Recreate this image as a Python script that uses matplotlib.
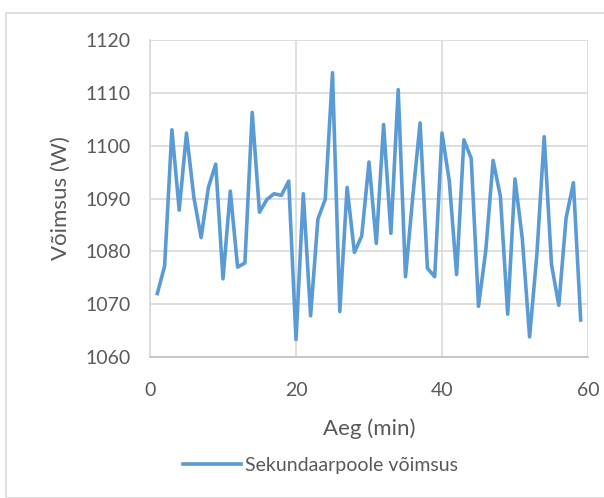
import matplotlib
matplotlib.use("Agg")
from matplotlib import pyplot as plt
from matplotlib.patches import Rectangle

# Aeg (min)
aeg = list(range(1, 60))
# Sekundaarpoole võimsus (W)
voimsus = [1072.0, 1077.2, 1103.0, 1087.8, 1102.4, 1090.3, 1082.6, 1092.1, 1096.5, 1074.8,
           1091.4, 1077.0, 1077.8, 1106.3, 1087.4, 1089.8, 1090.9, 1090.6, 1093.3, 1063.3,
           1090.9, 1067.8, 1086.1, 1089.8, 1113.8, 1068.6, 1092.1, 1079.8, 1082.9, 1096.9,
           1081.5, 1104.0, 1083.4, 1110.6, 1075.2, 1090.4, 1104.3, 1076.8, 1075.2, 1102.4,
           1093.3, 1075.6, 1101.1, 1097.6, 1069.6, 1080.2, 1097.2, 1090.4, 1068.1, 1093.7,
           1082.4, 1063.8, 1079.5, 1101.7, 1077.5, 1069.8, 1086.3, 1093.0, 1067.0]

plt.rcParams['font.family'] = ['Lato', 'DejaVu Sans']
tekst = '#595959'

fig = plt.figure(figsize=(6.04, 4.98), dpi=100)
ax = fig.add_axes([150/604, 1-357/498, 438/604, 317/498])

# raam ümber diagrammi
fig.patches.append(Rectangle((6/604, 0), 1.0, 1-13/498, transform=fig.transFigure,
                             fill=False, edgecolor='#D9D9D9', linewidth=1.2))

ax.plot(aeg, voimsus, color='#5B9BD5', linewidth=2.6, label='Sekundaarpoole võimsus')

ax.set_xlim(0, 60)
ax.set_ylim(1060, 1120)
ax.set_xticks([0, 20, 40, 60])
ax.set_yticks(range(1060, 1121, 10))
ax.grid(True, color='#D9D9D9', linewidth=1.2)
ax.set_axisbelow(True)
for s in ['top', 'right']:
    ax.spines[s].set_visible(False)
ax.spines['left'].set_color('#D9D9D9')
ax.spines['bottom'].set_color('#BFBFBF')
ax.spines['left'].set_linewidth(1.2)
ax.spines['bottom'].set_linewidth(1.2)
ax.tick_params(length=0, labelsize=14, labelcolor=tekst)
ax.tick_params(axis='x', pad=18)
ax.tick_params(axis='y', pad=14)

ax.set_xlabel('Aeg (min)', fontsize=16, color=tekst, labelpad=14)
ax.set_ylabel('Võimsus (W)', fontsize=16, color=tekst, labelpad=10)

fig.legend(loc='center', bbox_to_anchor=(0.53, 1-465/498), frameon=False,
           fontsize=14, labelcolor=tekst, handlelength=3.0, handletextpad=0.2)

fig.savefig('out.png', dpi=100)
